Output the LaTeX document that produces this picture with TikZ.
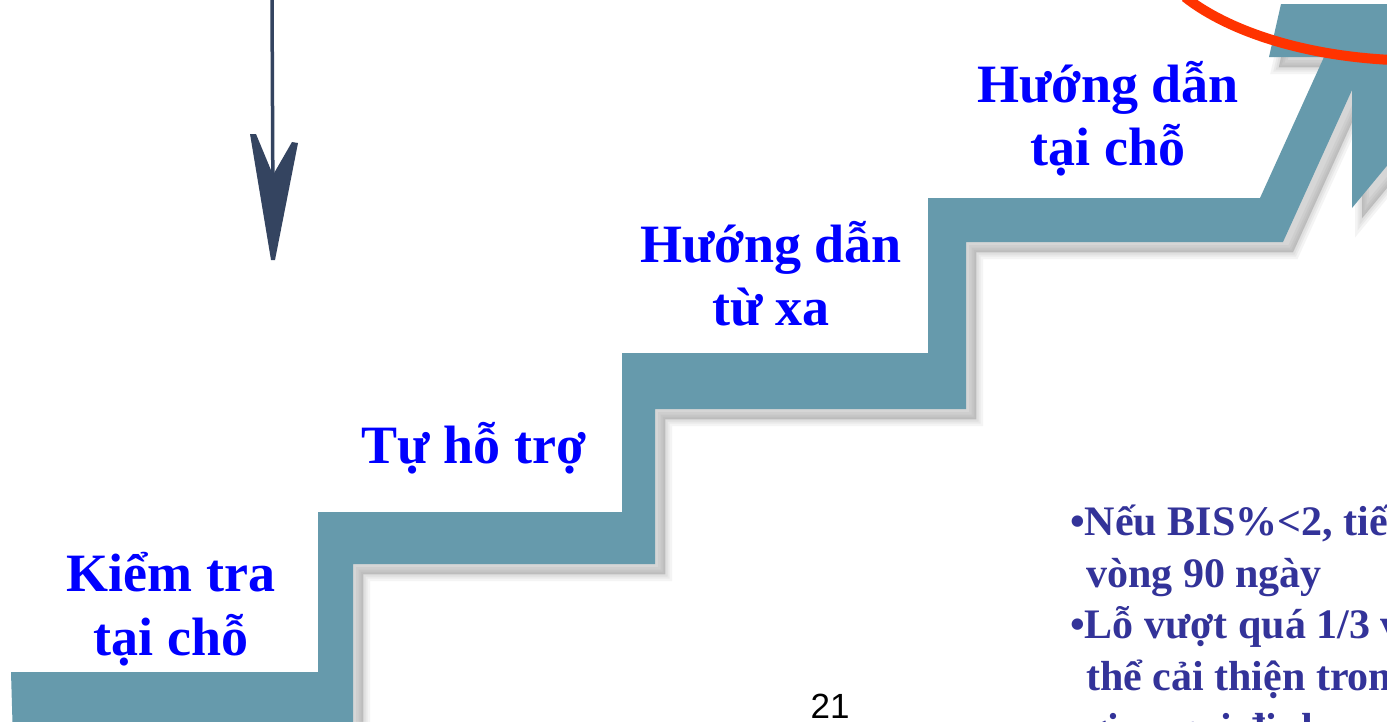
\documentclass[tikz,border=0pt]{standalone}
\usepackage{fontspec}
\setmainfont{Liberation Serif}
\newfontfamily\sansf{Liberation Sans}
\definecolor{stair}{RGB}{102,154,172}
\definecolor{labelblue}{RGB}{0,0,255}
\definecolor{notecol}{RGB}{51,51,153}
\definecolor{arcred}{RGB}{255,51,0}
\definecolor{navy}{RGB}{52,68,96}
\begin{document}
\begin{tikzpicture}[x=1pt,y=-1pt,
  stairp/.style={insert path={(11,672) -- (318,672) -- (318,512) -- (622,512) -- (622,353) -- (928,353) -- (928,198) -- (1260,198) -- (1324,57) -- (1269,57) -- (1281,4) -- (1400,4) -- (1400,150) -- (1352,208) -- (1352,90) -- (1283,242) -- (966,242) -- (966,409) -- (655,409) -- (655,564) -- (353,564) -- (353,740) -- (13,740) -- cycle}},
  shadowlayer/.style={draw=black!55, fill=black!55, opacity=0.08, line join=miter},
  lbl/.style={font=\fontsize{54}{64}\selectfont\bfseries, text=labelblue, inner sep=0pt, anchor=base},
  note/.style={font=\fontsize{42}{52}\selectfont\bfseries, text=notecol, inner sep=0pt, anchor=base west},
  pagenum/.style={font=\sansf\fontsize{35}{40}\selectfont, text=black, inner sep=0pt, anchor=base}]
\useasboundingbox (0,0) rectangle (1387,721);
\clip (0,0) rectangle (1387,721);
\fill[white] (0,0) rectangle (1387,721);
% shadow
\begin{scope}[shift={(10,10)}]
  \path[shadowlayer, line width=14pt, stairp];
  \path[shadowlayer, line width=9pt, stairp];
  \path[shadowlayer, line width=5pt, stairp];
  \path[shadowlayer, line width=1pt, stairp];
\end{scope}
% staircase
\path[fill=stair, stairp];
% red arc
\draw[arcred, line width=10pt] (1185,-3) .. controls (1220,25) and (1290,55) .. (1392,60);
% down arrow
\coordinate (shtop) at (272,-2);
\coordinate (shbot) at (273,215);
\draw[navy, line width=3.5pt] (shtop) -- (shbot);
\fill[navy] (250,134) -- (256,134) -- (273,175) -- (292,142) -- (298,143) -- (275,260) -- (271,260) -- cycle;
% labels
\node[lbl] (l1a) at (171,591) {Kiểm tra};
\node[lbl] (l1b) at (171,655) {tại chỗ};
\node[lbl] (l2) at (474,463) {Tự hỗ trợ};
\node[lbl] (l3a) at (771,262) {Hướng dẫn};
\node[lbl] (l3b) at (771,325) {từ xa};
\node[lbl] (l4a) at (1108,102) {Hướng dẫn};
\node[lbl] (l4b) at (1108,165) {tại chỗ};
% notes
\node[note] (n1) at (1070,535) {•Nếu BIS\%<2, tiến};
\node[note] (n2) at (1086,587) {vòng 90 ngày};
\node[note] (n3) at (1070,638) {•Lỗ vượt quá 1/3 v};
\node[note] (n4) at (1086,690) {thể cải thiện trong};
\node[note] (n5) at (1086,742) {gian qui định};
% page number
\node[pagenum] (pg) at (830,718) {21};
\end{tikzpicture}
\end{document}
